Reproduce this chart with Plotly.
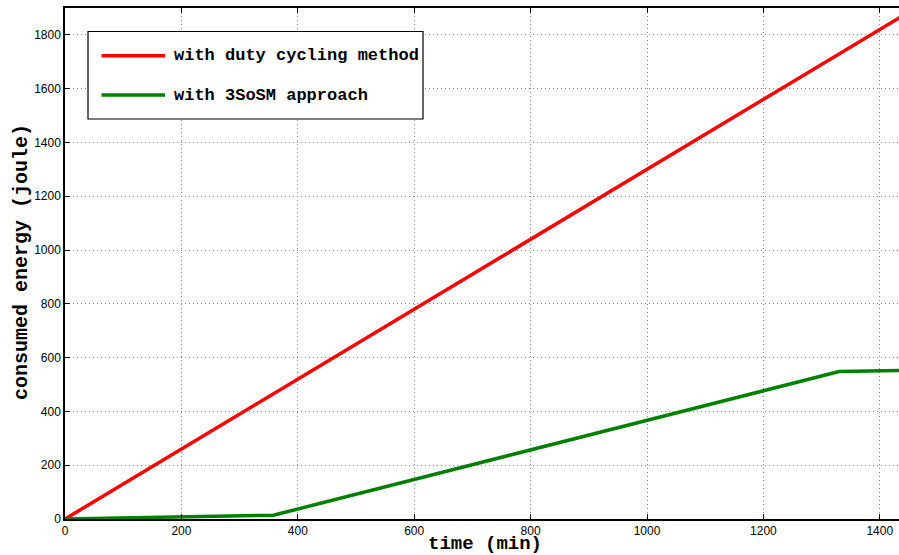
import plotly.graph_objects as go

# data (time in minutes, energy in joule)
t_duty = [0, 1440]
e_duty = [0, 1872]

t_3sosm = [0, 358, 1330, 1440]
e_3sosm = [0, 14, 548, 552]

names = ["with duty cycling method", "with 3SoSM approach"]
colors = ["#ff0000", "#008000"]

W, H = 899, 555
L, R, T, B = 65, 0, 8, 36

mono = "Liberation Mono, Courier New, monospace"
sans = "Liberation Sans, Arial, sans-serif"


def px(x, y):
    # pixel position -> paper coords (for the hand-made legend box)
    return (x - L) / (W - L - R), (H - B - y) / (H - T - B)


fig = go.Figure()
fig.add_trace(go.Scatter(x=t_duty, y=e_duty, mode="lines", name=names[0],
                         line=dict(color=colors[0], width=3.5)))
fig.add_trace(go.Scatter(x=t_3sosm, y=e_3sosm, mode="lines", name=names[1],
                         line=dict(color=colors[1], width=3.5)))

# legend drawn by hand so it looks like the MATLAB one
x0, y0 = px(88, 31.5)
x1, y1 = px(423, 119)
shapes = [dict(type="rect", xref="paper", yref="paper", x0=x0, y0=y0, x1=x1, y1=y1,
               line=dict(color="black", width=1.2), fillcolor="white", layer="above")]
annotations = []
for i, (nm, c) in enumerate(zip(names, colors)):
    yy = 55.7 + i * 39.3
    a, b = px(101.5, yy)
    c2, _ = px(165, yy)
    shapes.append(dict(type="line", xref="paper", yref="paper", x0=a, x1=c2, y0=b, y1=b,
                       line=dict(color=c, width=3.5), layer="above"))
    tx, _ = px(172, yy)
    annotations.append(dict(xref="paper", yref="paper", x=tx, y=b, text="<b>%s</b>" % nm,
                            showarrow=False, xanchor="left", yanchor="middle",
                            font=dict(family=mono, size=17, color="black")))

# axis titles
ax, ay = px(485, 555)
annotations.append(dict(xref="paper", yref="paper", x=ax, y=ay, text="<b>time (min)</b>",
                        showarrow=False, xanchor="center", yanchor="bottom", yshift=-1,
                        borderpad=0,
                        font=dict(family=mono, size=19, color="black")))
bx, by = px(21, 262)
annotations.append(dict(xref="paper", yref="paper", x=bx, y=by,
                        text="<b>consumed energy (joule)</b>", textangle=-90,
                        showarrow=False, xanchor="center", yanchor="middle",
                        font=dict(family=mono, size=20, color="black")))

fig.update_layout(
    width=W, height=H,
    margin=dict(l=L, r=R, t=T, b=B),
    plot_bgcolor="white", paper_bgcolor="white",
    showlegend=False,
    shapes=shapes, annotations=annotations,
    xaxis=dict(range=[0, 1433], tickvals=list(range(0, 1401, 200)),
               ticks="inside", ticklen=5, tickcolor="black",
               showline=True, linecolor="black", linewidth=1.5, mirror="ticks",
               showgrid=True, gridcolor="#888888", griddash="1px,3px", gridwidth=1,
               zeroline=False, automargin=False,
               tickfont=dict(family=sans, size=12, color="black")),
    yaxis=dict(range=[0, 1900], tickvals=list(range(0, 1801, 200)),
               ticks="inside", ticklen=5, tickcolor="black",
               showline=True, linecolor="black", linewidth=1.5,
               showgrid=True, gridcolor="#888888", griddash="1px,3px", gridwidth=1,
               zeroline=False, automargin=False,
               tickfont=dict(family=sans, size=12, color="black")),
)

# the page body has a default margin; drop it so the figure sits at the corner
fig.write_html("out.html", config={"displayModeBar": False},
               post_script="document.body.style.margin='0';")
